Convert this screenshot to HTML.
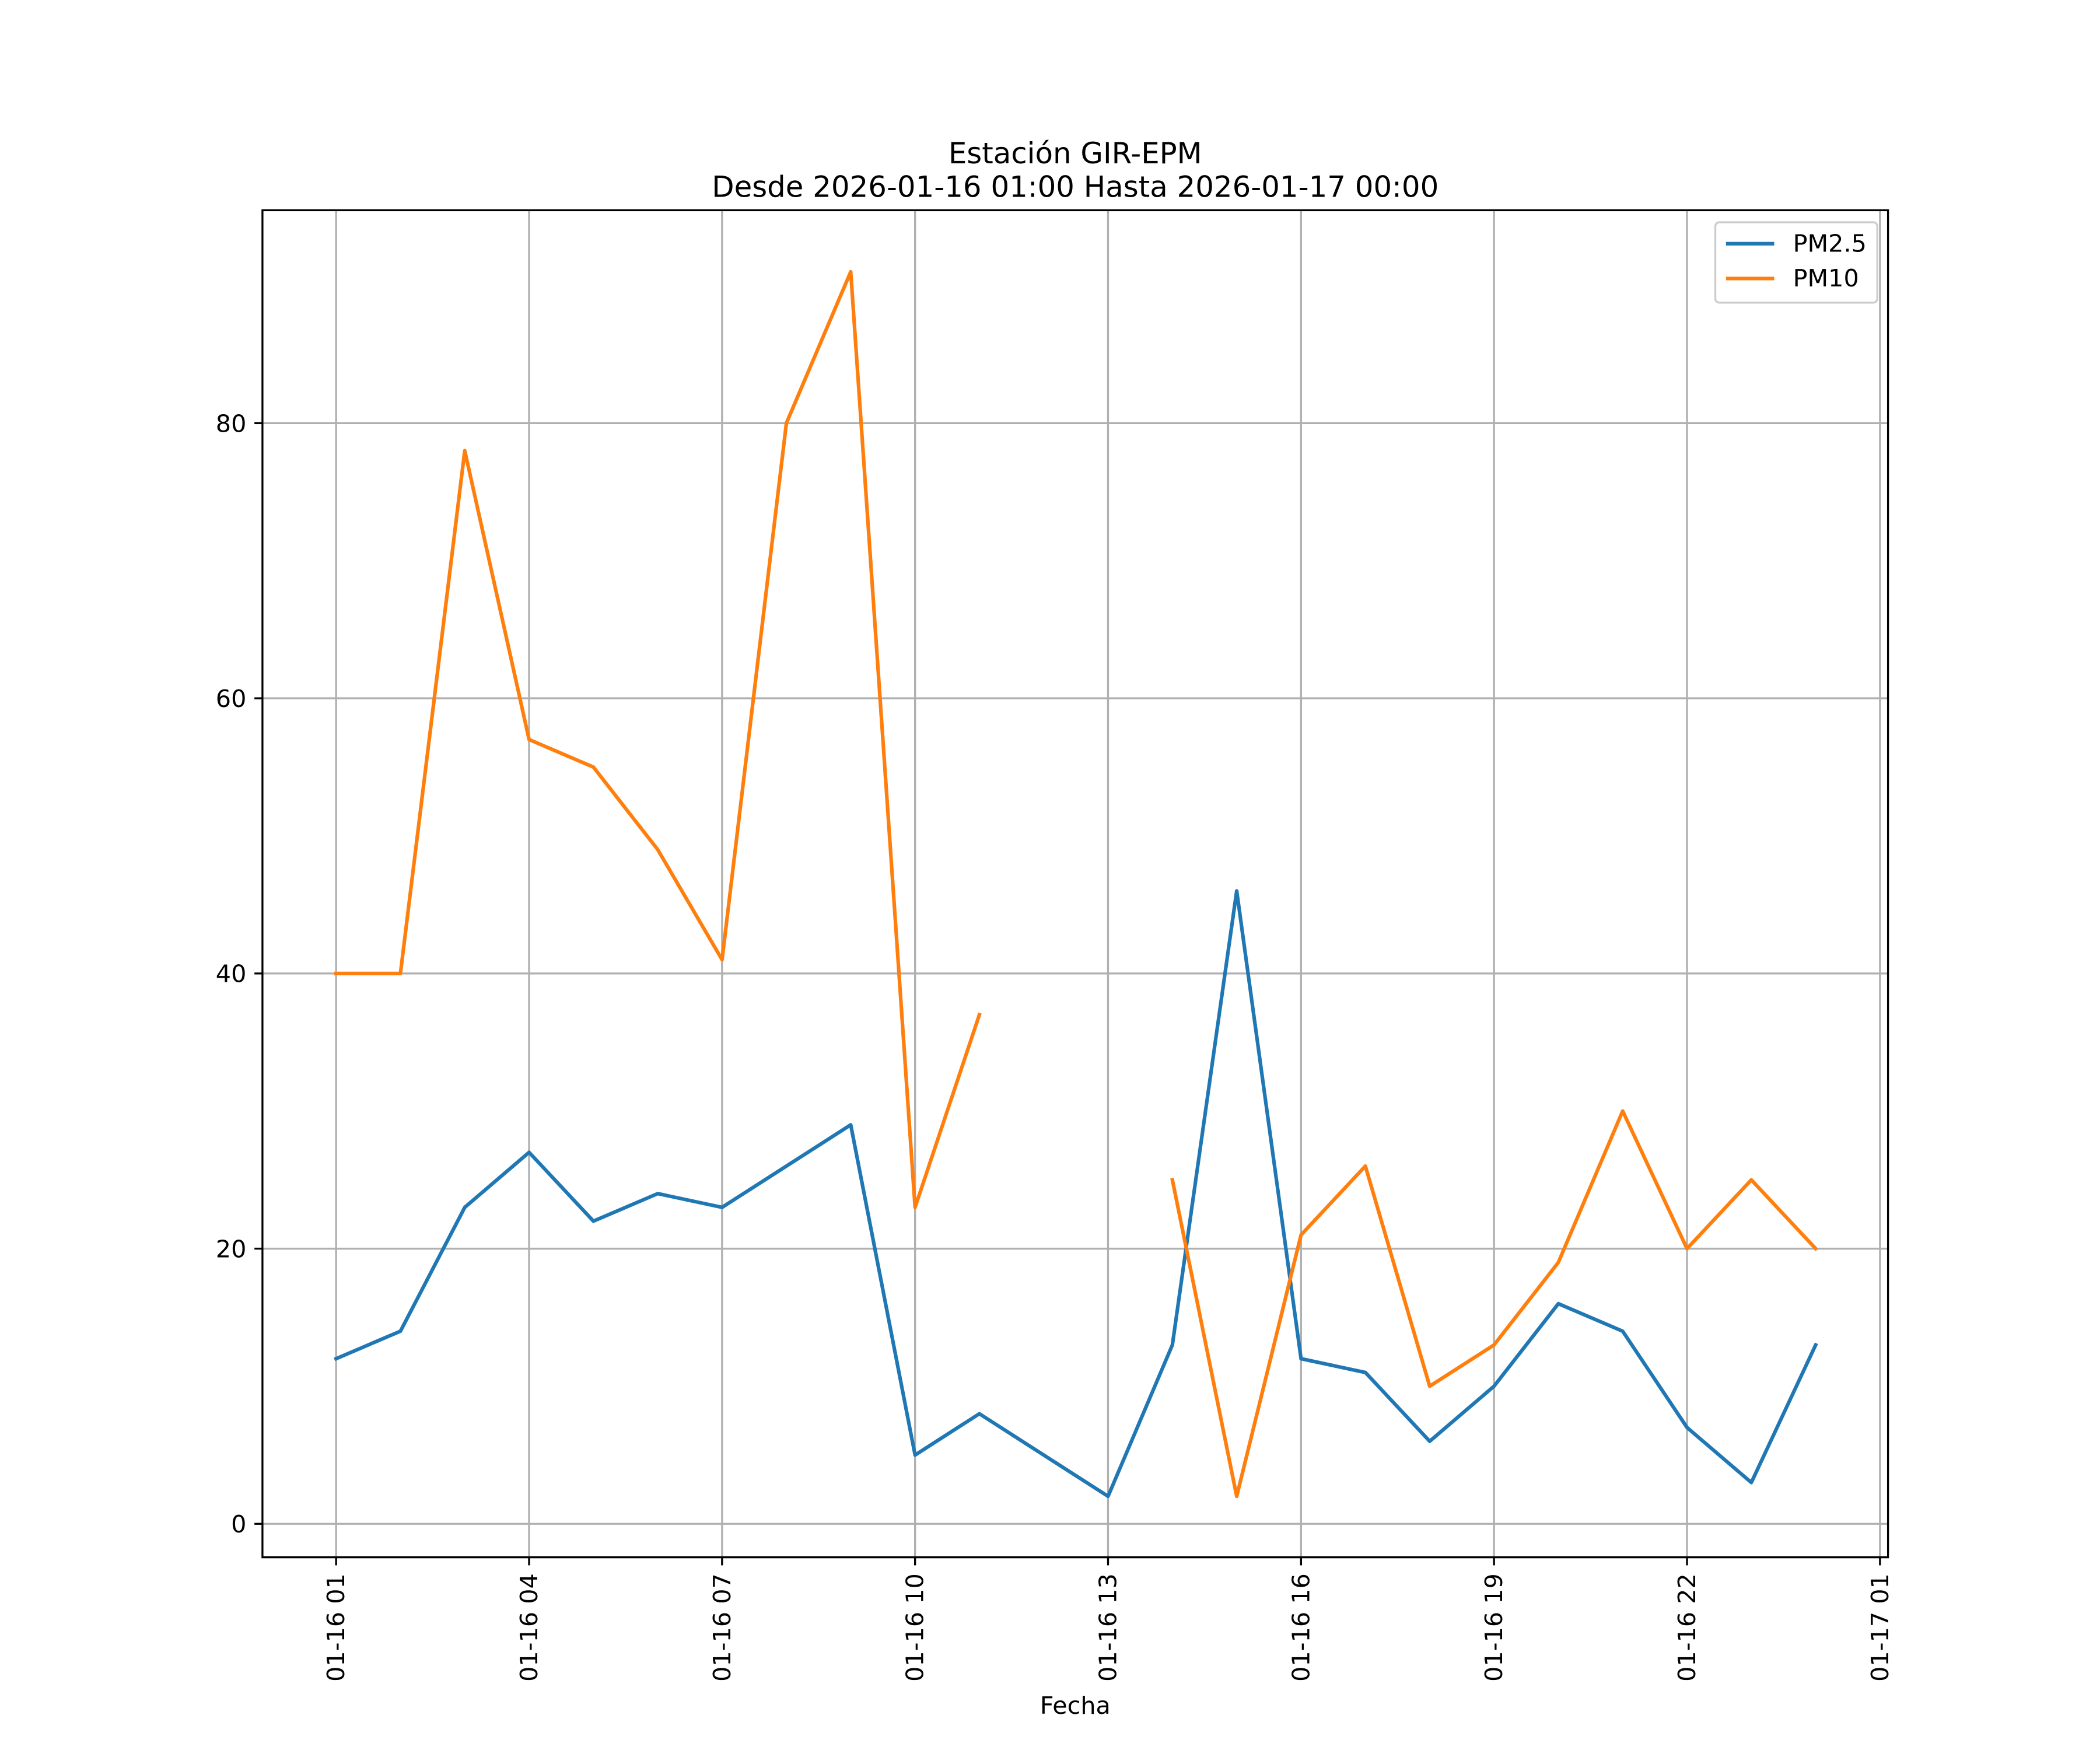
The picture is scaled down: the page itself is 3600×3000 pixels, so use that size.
<!DOCTYPE html>
<html><head><meta charset="utf-8"><style>html,body{margin:0;padding:0;background:#fff}svg{display:block}text{font-family:"DejaVu Sans","Liberation Sans",sans-serif;fill:#000}</style></head>
<body>
<svg id="chart" width="3600" height="3000" viewBox="0 0 1568.3 1306.92" xmlns="http://www.w3.org/2000/svg">
<rect width="1568.3" height="1306.92" fill="#fff"/>
<text x="803" y="122" font-size="21.7" text-anchor="middle">Estación GIR-EPM</text>
<text x="803" y="147" font-size="21.7" text-anchor="middle">Desde 2026-01-16 01:00 Hasta 2026-01-17 00:00</text>
<g id="grid"></g>
<g id="series"></g>
<rect x="196" y="157" width="1214" height="1006" fill="none" stroke="#000" stroke-width="1.45"/>
<g id="axes"></g>
<text x="803" y="1280" font-size="18" text-anchor="middle">Fecha</text>
<g>
<rect x="1281" y="166" width="121" height="60" rx="3" fill="#fff" fill-opacity="0.8" stroke="#ccc" stroke-width="1.45"/>
<line x1="1289" y1="182" x2="1325" y2="182" stroke="#1f77b4" stroke-width="2.7"/>
<text x="1339" y="188" font-size="18">PM2.5</text>
<line x1="1289" y1="208" x2="1325" y2="208" stroke="#ff7f0e" stroke-width="2.7"/>
<text x="1339" y="214" font-size="18">PM10</text>
</g>
</svg>
<script>
const hours = [1,2,3,4,5,6,7,8,9,10,11,12,13,14,15,16,17,18,19,20,21,22,23,24];
const pm25 = [12,14,23,27,22,24,23,26,29,5,8,5,2,13,46,12,11,6,10,16,14,7,3,13];
const pm10 = [40,40,78,57,55,49,41,80,91,23,37,null,null,25,2,21,26,10,13,19,30,20,25,20];
const xTickHours = [1,4,7,10,13,16,19,22,25];
const xTickLabels = ["01-16 01","01-16 04","01-16 07","01-16 10","01-16 13","01-16 16","01-16 19","01-16 22","01-17 01"];
const yTicks = [0,20,40,60,80];

const NS="http://www.w3.org/2000/svg";
const X = h => 251 + (h-1)*(1153/24);
const Y = v => 1138 - v*(822/80);
function mk(tag, attrs, parent){const e=document.createElementNS(NS,tag);for(const k in attrs)e.setAttribute(k,attrs[k]);parent.appendChild(e);return e;}
const grid=document.getElementById('grid'), axes=document.getElementById('axes'), series=document.getElementById('series');
xTickHours.forEach((h,i)=>{
  const x=X(h);
  const g=mk('line',{x1:x,y1:157,x2:x,y2:1163,stroke:'#b0b0b0','stroke-width':1.45},grid);
  
  
  const t=mk('line',{x1:x,y1:1163,x2:x,y2:1169,stroke:'#000','stroke-width':1.45},axes);
  
  
  const l=mk('text',{x:0,y:0,'font-size':18,'text-anchor':'end','dominant-baseline':'central',transform:`translate(${x},1175) rotate(-90)`},axes);
  l.textContent=xTickLabels[i];
  
  
});
yTicks.forEach(v=>{
  const y=Y(v);
  const g=mk('line',{x1:196,y1:y,x2:1410,y2:y,stroke:'#b0b0b0','stroke-width':1.45},grid);
  
  
  const t=mk('line',{x1:190,y1:y,x2:196,y2:y,stroke:'#000','stroke-width':1.45},axes);
  
  
  const l=mk('text',{x:184,y:y+6.5,'font-size':18,'text-anchor':'end'},axes);
  l.textContent=String(v);
  
  
});
function draw(vals,color,name){
  let d='',pen=false;
  vals.forEach((v,i)=>{
    if(v===null){pen=false;return;}
    d+=(pen?'L':'M')+X(hours[i]).toFixed(2)+' '+Y(v).toFixed(2)+' ';pen=true;
  });
  const p=mk('path',{d:d,fill:'none',stroke:color,'stroke-width':2.7,'stroke-linejoin':'round','stroke-linecap':'square'},series);
  
  
}
draw(pm25,'#1f77b4','pm25-line');
draw(pm10,'#ff7f0e','pm10-line');
</script>
</body></html>
